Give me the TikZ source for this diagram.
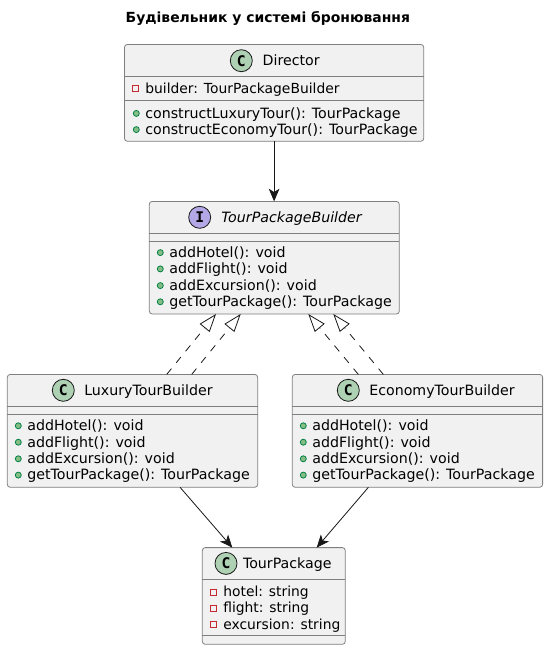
\documentclass[tikz,border=0pt]{standalone}
\usepackage{fontspec}
\setmainfont{DejaVu Sans}
\newfontfamily\iconfont{DejaVu Sans Mono}
\usetikzlibrary{arrows.meta,calc}
\definecolor{boxfill}{HTML}{F1F1F1}
\definecolor{boxline}{HTML}{7F7F7F}
\definecolor{ink}{HTML}{181818}
\definecolor{cfill}{HTML}{ADD1B2}
\definecolor{ifill}{HTML}{B4A7E5}
\definecolor{privline}{HTML}{C82930}
\definecolor{publine}{HTML}{038048}
\definecolor{pubfill}{HTML}{84BE84}
\tikzset{
  umlbox/.style={draw=boxline,fill=boxfill,line width=0.6pt,rounded corners=2.2pt,inner sep=0pt,outer sep=0pt,anchor=north west},
  sep/.style={draw=boxline,line width=0.6pt},
  txt/.style={inner sep=0pt,outer sep=0pt,anchor=base west,text=black,font=\fontsize{10.65pt}{12pt}\selectfont},
  privtxt/.style={txt,font=\fontsize{10.4pt}{12pt}\selectfont},
  ttl/.style={inner sep=0pt,outer sep=0pt,anchor=base west,text=black,font=\fontsize{10.45pt}{12pt}\selectfont\bfseries},
  icon/.style={circle,draw=ink,line width=0.6pt,minimum size=16.5pt,inner sep=0pt,font=\fontsize{11pt}{12pt}\iconfont\bfseries},
  assoc/.style={draw=ink,line width=0.6pt,-{Stealth[length=9.5pt,width=8pt,inset=2.5pt,fill=ink]}},
  impl/.style={draw=ink,line width=0.6pt,dash pattern=on 5.6pt off 5.6pt,-{Triangle[open,length=13.5pt,width=9.5pt,fill=white]}},
}
\newcommand{\umlbox}[5]{% name,x1,y1,x2,y2
  \path let \p1=(#2,#3),\p2=(#4,#5) in
    node[umlbox,minimum width=\x2-\x1,minimum height=\y1-\y2] (#1) at (\p1) {};
}
\newcommand{\sepline}[2]{% box,y
  \draw[sep] (#1.west |- 0,#2) -- (#1.east |- 0,#2);
}
\newcommand{\pubrow}[4]{% name,x,y,text
  \node[txt] (#1) at (#2,#3) {#4};
  \draw[publine,fill=pubfill,line width=0.6pt] ($(#1.base west)+(-9,-4.8)$) circle (3);
}
\newcommand{\privrow}[4]{%
  \node[privtxt] (#1) at (#2,#3) {#4};
  \draw[privline,line width=0.6pt] ($(#1.base west)+(-12.7,-7.6)$) rectangle ++(6,6);
}
\begin{document}
\begin{tikzpicture}[x=0.75pt,y=-0.75pt]
\useasboundingbox (0,0) rectangle (548,650);
% title
\node[ttl] (title) at (125.7,22.7) {Будівельник у системі бронювання};
% Director
\umlbox{dir}{124.5}{44.4}{423.7}{141.3}
\sepline{dir}{76.3}\sepline{dir}{100.3}
\node[icon,fill=cfill] (dirI) at (241.3,60.7) {C};
\node[txt] (dirT) at (262.7,65.6) {Director};
\privrow{dirA}{145.3}{93.3}{builder: TourPackageBuilder}
\pubrow{dirB}{145.3}{118.2}{constructLuxuryTour(): TourPackage}
\pubrow{dirC}{145.3}{134.4}{constructEconomyTour(): TourPackage}
% Interface
\umlbox{tpb}{149.3}{201.4}{399.3}{314}
\sepline{tpb}{233.3}\sepline{tpb}{241.3}
\node[icon,fill=ifill] (tpbI) at (199.7,217.3) {I};
\node[txt,font=\fontsize{10.65pt}{12pt}\selectfont\itshape] (tpbT) at (221.3,222.4) {TourPackageBuilder};
\pubrow{tpbA}{169.3}{257.4}{addHotel(): void}
\pubrow{tpbB}{169.3}{273.7}{addFlight(): void}
\pubrow{tpbC}{169.3}{290.4}{addExcursion(): void}
\pubrow{tpbD}{169.3}{306.6}{getTourPackage(): TourPackage}
% Luxury
\umlbox{lux}{7.3}{374.4}{257.7}{487.3}
\sepline{lux}{406.3}\sepline{lux}{414.3}
\node[icon,fill=cfill] (luxI) at (63.3,390.3) {C};
\node[txt] (luxT) at (84.3,395.4) {LuxuryTourBuilder};
\pubrow{luxA}{27.3}{430.6}{addHotel(): void}
\pubrow{luxB}{27.3}{447}{addFlight(): void}
\pubrow{luxC}{27.3}{463.6}{addExcursion(): void}
\pubrow{luxD}{27.3}{479.9}{getTourPackage(): TourPackage}
% Economy
\umlbox{eco}{292.3}{374.4}{542.6}{487.3}
\sepline{eco}{406.3}\sepline{eco}{414.3}
\node[icon,fill=cfill] (ecoI) at (348.3,390.3) {C};
\node[txt] (ecoT) at (369.3,395.4) {EconomyTourBuilder};
\pubrow{ecoA}{312.3}{430.6}{addHotel(): void}
\pubrow{ecoB}{312.3}{447}{addFlight(): void}
\pubrow{ecoC}{312.3}{463.6}{addExcursion(): void}
\pubrow{ecoD}{312.3}{479.9}{getTourPackage(): TourPackage}
% TourPackage
\umlbox{pkg}{202.3}{547.6}{345.3}{644.3}
\sepline{pkg}{579}\sepline{pkg}{635}
\node[icon,fill=cfill] (pkgI) at (226,563.4) {C};
\node[txt] (pkgT) at (243,568.5) {TourPackage};
\privrow{pkgA}{223.3}{596.6}{hotel: string}
\privrow{pkgB}{223.3}{612.8}{flight: string}
\privrow{pkgC}{223.3}{629}{excursion: string}
% connectors
\draw[assoc] (dir.south) -- (dir.south |- tpb.north);
\draw[impl] ($(lux.north west)!.6366!(lux.north east)$) -- ($(tpb.south west)!.2668!(tpb.south east)$);
\draw[impl] ($(lux.north west)!.7364!(lux.north east)$) -- ($(tpb.south west)!.3656!(tpb.south east)$);
\draw[impl] ($(eco.north west)!.2638!(eco.north east)$) -- ($(tpb.south west)!.636!(tpb.south east)$);
\draw[impl] ($(eco.north west)!.3637!(eco.north east)$) -- ($(tpb.south west)!.736!(tpb.south east)$);
\draw[assoc] ($(lux.south west)!.69!(lux.south east)$) -- ($(pkg.north west)!.21!(pkg.north east)$);
\draw[assoc] ($(eco.south west)!.304!(eco.south east)$) -- ($(pkg.north west)!.80!(pkg.north east)$);
\end{tikzpicture}
\end{document}
